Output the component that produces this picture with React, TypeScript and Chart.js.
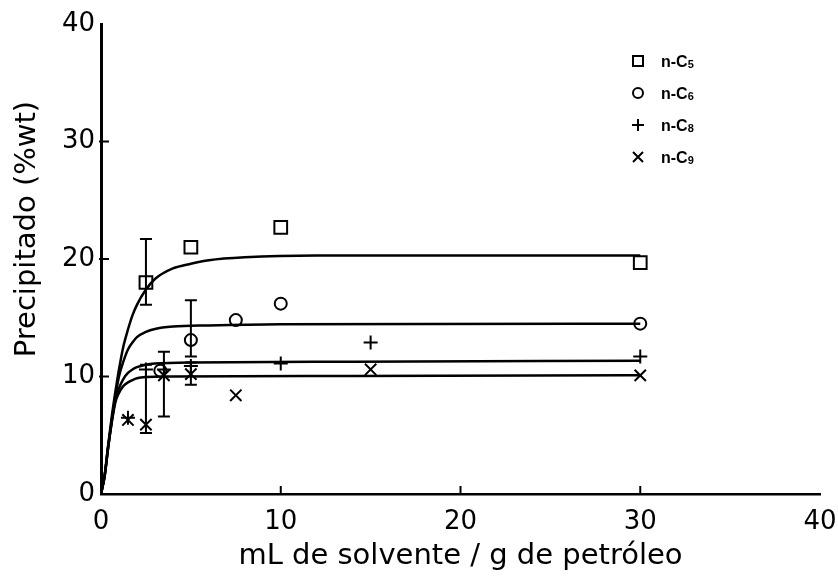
import React, { useEffect, useRef } from "react";
import { Chart, registerables } from "chart.js";

Chart.register(...registerables);

// ---------- data ----------
const xTicks = [0, 10, 20, 30, 40];
const yTicks = [0, 10, 20, 30, 40];
const xTitle = "mL de solvente / g de petróleo";
const yTitle = "Precipitado (%wt)";

const legendPrefix = "n-C";
const legendSubs = ["5", "6", "8", "9"];
const seriesLabels = ["n-C5", "n-C6", "n-C8", "n-C9"];

// measured points
const c5X = [2.5, 5, 10, 30];
const c5Y = [18.0, 21.0, 22.7, 19.7];
const c5ErrLow = [16.1, null, null, null];
const c5ErrHigh = [21.7, null, null, null];

const c6X = [3.3, 5, 7.5, 10, 30];
const c6Y = [10.5, 13.1, 14.8, 16.2, 14.5];
const c6ErrLow = [null, 11.7, null, null, null];
const c6ErrHigh = [null, 16.5, null, null, null];

const c8X = [1.5, 2.5, 3.5, 5, 10, 15, 30];
const c8Y = [6.5, 10.6, 10.6, 10.9, 11.1, 12.9, 11.7];
const c8ErrLow = [null, 5.2, null, null, null, null, null];
const c8ErrHigh = [null, 11.0, null, null, null, null, null];

const c9X = [1.5, 2.5, 3.5, 5, 7.5, 15, 30];
const c9Y = [6.3, 5.9, 10.1, 10.2, 8.4, 10.6, 10.1];
const c9ErrLow = [null, null, 6.6, 9.3, null, null, null];
const c9ErrHigh = [null, null, 12.1, 11.2, null, null, null];

// fitted curves
const c5CurveX = [0, 0.2, 0.4, 0.6, 0.8, 1.0, 1.25, 1.5, 1.75, 2.0, 2.5, 3, 4, 5, 6, 8, 12, 30];
const c5CurveY = [0, 1.6, 4.2, 6.6, 8.7, 10.6, 12.6, 14.0, 15.2, 16.1, 17.4, 18.3, 19.2, 19.6, 19.9, 20.15, 20.3, 20.3];
const c6CurveX = [0, 0.2, 0.4, 0.6, 0.8, 1.0, 1.25, 1.5, 1.75, 2.0, 2.5, 3, 4, 6, 10, 30];
const c6CurveY = [0, 1.5, 4.0, 6.3, 8.3, 10.0, 11.3, 12.3, 12.9, 13.35, 13.8, 14.05, 14.25, 14.35, 14.45, 14.5];
const c8CurveX = [0, 0.2, 0.4, 0.6, 0.8, 1.0, 1.25, 1.5, 1.75, 2.0, 2.5, 3, 5, 14, 30];
const c8CurveY = [0, 1.5, 4.0, 6.2, 8.0, 9.0, 9.8, 10.3, 10.6, 10.8, 11.0, 11.1, 11.2, 11.25, 11.35];
const c9CurveX = [0, 0.2, 0.4, 0.6, 0.8, 1.0, 1.25, 1.5, 1.75, 2.0, 2.5, 4, 14, 30];
const c9CurveY = [0, 1.5, 4.0, 6.1, 7.8, 8.6, 9.2, 9.5, 9.7, 9.85, 9.95, 10.0, 10.05, 10.1];

// ---------- helpers ----------
const pts = (xs: number[], ys: number[]) => xs.map((x, i) => ({ x, y: ys[i] }));

const INK = "#000";
const pointStyles = ["rect", "circle", "cross", "crossRot"];
const pointRadii = [9, 6, 7, 8];

const errorBars = [
  { xs: c5X, lo: c5ErrLow, hi: c5ErrHigh },
  { xs: c6X, lo: c6ErrLow, hi: c6ErrHigh },
  { xs: c8X, lo: c8ErrLow, hi: c8ErrHigh },
  { xs: c9X, lo: c9ErrLow, hi: c9ErrHigh },
];

const decorPlugin = {
  id: "decor",
  afterDatasetsDraw(chart: any) {
    const { ctx, chartArea, scales } = chart;
    const xs = scales.x;
    const ys = scales.y;
    ctx.save();
    ctx.strokeStyle = INK;
    ctx.fillStyle = INK;
    // inward tick marks
    ctx.lineWidth = 2;
    for (const v of yTicks) {
      if (v === 0 || v === 40) continue;
      const py = ys.getPixelForValue(v);
      ctx.beginPath();
      ctx.moveTo(chartArea.left - 2, py);
      ctx.lineTo(chartArea.left + 8, py);
      ctx.stroke();
    }
    for (const v of xTicks) {
      if (v === 0 || v === 40) continue;
      const px = xs.getPixelForValue(v);
      ctx.beginPath();
      ctx.moveTo(px, chartArea.bottom);
      ctx.lineTo(px, chartArea.bottom - 8);
      ctx.stroke();
    }
    // error bars
    ctx.lineWidth = 2;
    for (const eb of errorBars) {
      eb.xs.forEach((xv, i) => {
        const lo = eb.lo[i];
        const hi = eb.hi[i];
        if (lo == null || hi == null) return;
        const px = xs.getPixelForValue(xv);
        const pl = ys.getPixelForValue(lo);
        const ph = ys.getPixelForValue(hi);
        ctx.beginPath();
        ctx.moveTo(px, pl);
        ctx.lineTo(px, ph);
        ctx.moveTo(px - 6, pl);
        ctx.lineTo(px + 6, pl);
        ctx.moveTo(px - 6, ph);
        ctx.lineTo(px + 6, ph);
        ctx.stroke();
      });
    }
    // legend
    const lx = 638;
    const rowY = [61, 93, 125, 157];
    rowY.forEach((y, i) => {
      ctx.lineWidth = 2;
      ctx.beginPath();
      if (i === 0) {
        ctx.rect(lx - 5, y - 5, 10, 10);
      } else if (i === 1) {
        ctx.arc(lx, y, 5, 0, Math.PI * 2);
      } else if (i === 2) {
        ctx.moveTo(lx - 6, y);
        ctx.lineTo(lx + 6, y);
        ctx.moveTo(lx, y - 6);
        ctx.lineTo(lx, y + 6);
      } else {
        ctx.moveTo(lx - 5, y - 5);
        ctx.lineTo(lx + 5, y + 5);
        ctx.moveTo(lx + 5, y - 5);
        ctx.lineTo(lx - 5, y + 5);
      }
      ctx.stroke();
      ctx.textBaseline = "alphabetic";
      ctx.textAlign = "left";
      ctx.font = "bold 16px 'Liberation Sans', Arial, sans-serif";
      const tx = 661;
      const base = y + 6;
      ctx.fillText(legendPrefix, tx, base);
      const w = ctx.measureText(legendPrefix).width;
      ctx.font = "bold 11px 'Liberation Sans', Arial, sans-serif";
      ctx.fillText(legendSubs[i], tx + w, base + 1);
    });
    // y axis title (placed as in the reference, above the axis centre)
    ctx.save();
    ctx.translate(27, 229);
    ctx.rotate(-Math.PI / 2);
    ctx.textAlign = "center";
    ctx.textBaseline = "middle";
    ctx.font = "29px 'DejaVu Sans', sans-serif";
    ctx.fillText(yTitle, 0, 0);
    ctx.restore();
    ctx.restore();
  },
};

export default function App() {
  const ref = useRef<HTMLCanvasElement | null>(null);

  useEffect(() => {
    if (!ref.current) return;
    const curves = [
      pts(c5CurveX, c5CurveY),
      pts(c6CurveX, c6CurveY),
      pts(c8CurveX, c8CurveY),
      pts(c9CurveX, c9CurveY),
    ];
    const scatters = [pts(c5X, c5Y), pts(c6X, c6Y), pts(c8X, c8Y), pts(c9X, c9Y)];

    const datasets: any[] = [];
    curves.forEach((d, i) => {
      datasets.push({
        type: "line",
        label: seriesLabels[i] + " curve",
        data: d,
        borderColor: INK,
        borderWidth: 2.5,
        pointRadius: 0,
        fill: false,
        cubicInterpolationMode: "monotone",
        showLine: true,
      });
    });
    scatters.forEach((d, i) => {
      datasets.push({
        type: "scatter",
        label: seriesLabels[i],
        data: d,
        borderColor: INK,
        backgroundColor: "rgba(0,0,0,0)",
        borderWidth: 2,
        pointStyle: pointStyles[i],
        pointRadius: pointRadii[i],
        showLine: false,
      });
    });

    const tickFont = { family: "'DejaVu Sans', sans-serif", size: 26 };
    const titleFont = { family: "'DejaVu Sans', sans-serif", size: 29 };

    const chart = new Chart(ref.current, {
      type: "scatter",
      data: { datasets },
      options: {
        animation: false,
        responsive: false,
        maintainAspectRatio: false,
        layout: { padding: { top: 24, right: 0, left: 0, bottom: 0 } },
        plugins: { legend: { display: false }, tooltip: { enabled: false } },
        scales: {
          x: {
            type: "linear",
            min: 0,
            max: 40,
            afterFit: (s: any) => {
              s.height = 82;
              s.paddingRight = 18;
            },
            afterBuildTicks: (s: any) => {
              s.ticks = xTicks.map((v) => ({ value: v }));
            },
            ticks: { color: INK, font: tickFont, padding: 13, maxRotation: 0 },
            grid: { display: true, drawOnChartArea: false, drawTicks: false },
            border: { display: true, color: INK, width: 2.5 },
            title: {
              display: true,
              text: xTitle,
              color: INK,
              font: titleFont,
              padding: { top: 0, bottom: 2 },
            },
          },
          y: {
            type: "linear",
            min: 0,
            max: 40,
            afterFit: (s: any) => {
              s.width = 101;
            },
            afterBuildTicks: (s: any) => {
              s.ticks = yTicks.map((v) => ({ value: v }));
            },
            ticks: { color: INK, font: tickFont, padding: 6 },
            grid: { display: true, drawOnChartArea: false, drawTicks: false },
            border: { display: true, color: INK, width: 3 },
            title: { display: false },
          },
        },
      },
      plugins: [decorPlugin],
    } as any);

    return () => chart.destroy();
  }, []);

  return (
    <div style={{ position: "fixed", left: 0, top: 0, width: 838, height: 576, background: "#fff" }}>
      <canvas ref={ref} width={838} height={576} style={{ display: "block" }} />
    </div>
  );
}
